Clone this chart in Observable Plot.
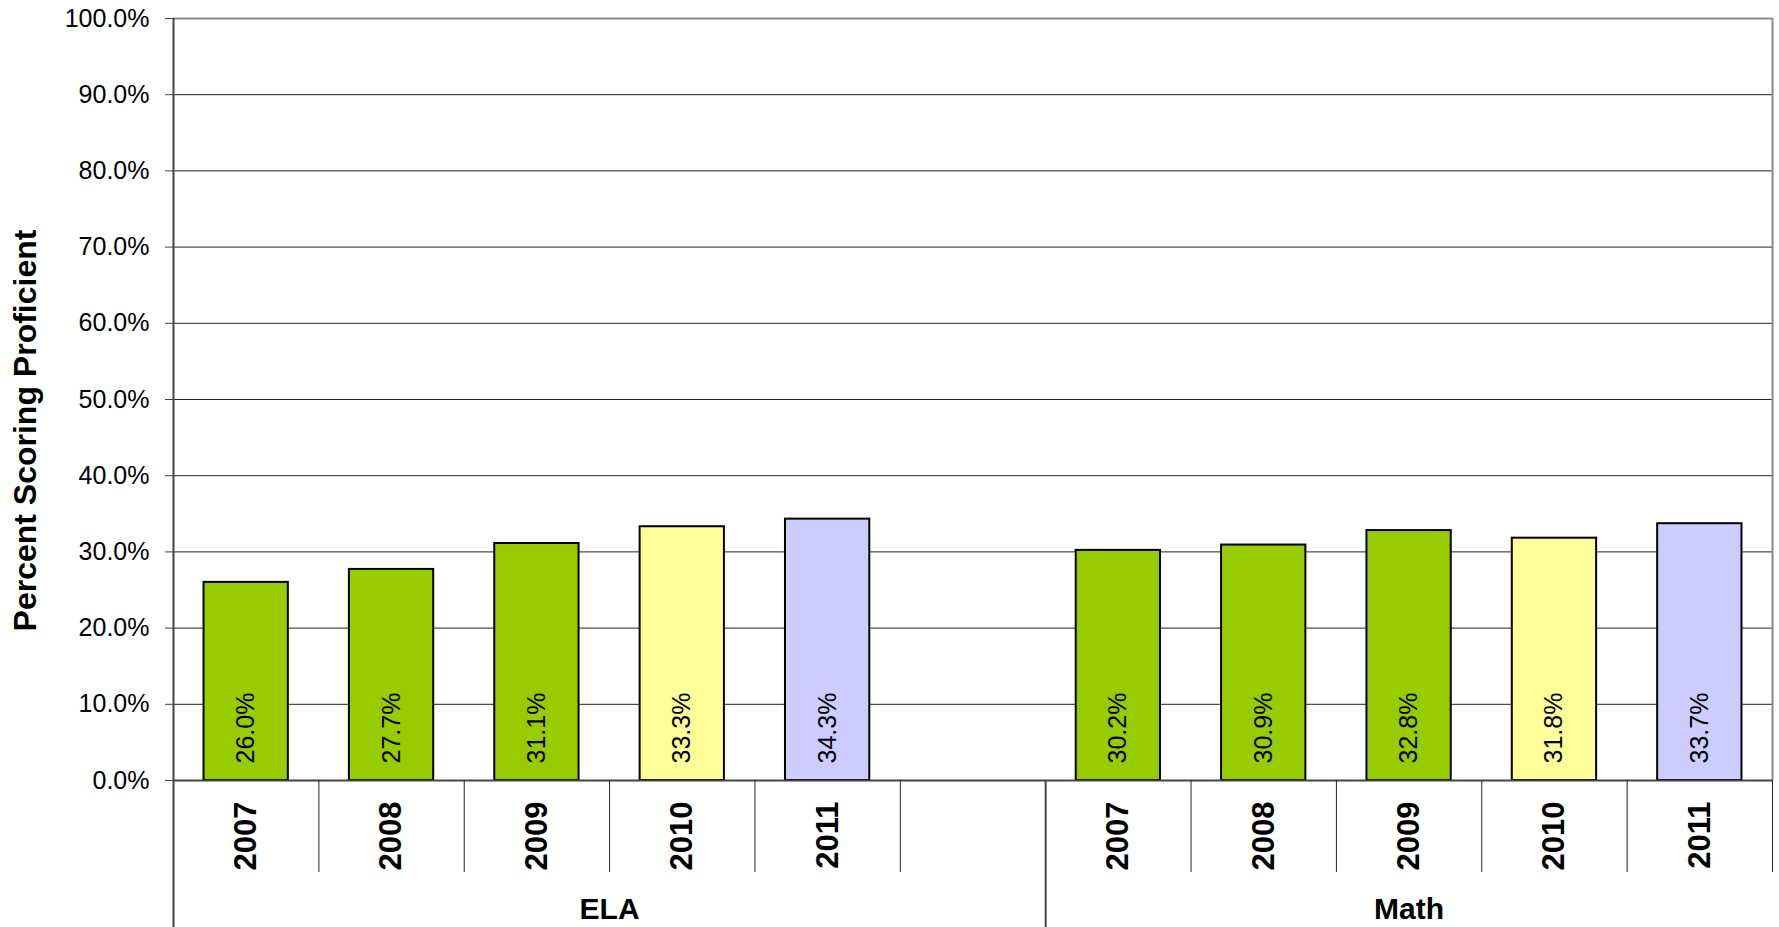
<!DOCTYPE html>
<html><head><meta charset="utf-8">
<script src="https://cdn.jsdelivr.net/npm/d3@7"></script>
<script src="https://cdn.jsdelivr.net/npm/@observablehq/plot@0.6"></script>
<style>body{margin:0;background:#fff;}</style>
</head><body><div id="chart"></div>
<script>
const subjects = ["ELA", "Math"];
const years = ["2007", "2008", "2009", "2010", "2011"];
const elaValues = [26.0, 27.7, 31.1, 33.3, 34.3];
const mathValues = [30.2, 30.9, 32.8, 31.8, 33.7];
const yearColors = ["#99CC00", "#99CC00", "#99CC00", "#FFFF99", "#CCCCFF"];
const yTicks = [0, 10, 20, 30, 40, 50, 60, 70, 80, 90, 100];
const yTitle = "Percent Scoring Proficient";

// ELA group holds the five years plus one empty slot; Math holds the five years
const groupSlots = [years.length + 1, years.length];
const groupStart = [0, groupSlots[0]];
const totalSlots = groupSlots[0] + groupSlots[1];

const rows = [];
[elaValues, mathValues].forEach((vals, g) =>
  vals.forEach((v, i) => rows.push({
    subject: subjects[g], year: years[i], value: v,
    slot: groupStart[g] + i, color: yearColors[i]
  }))
);

const catBounds = [];
groupSlots.forEach((n, g) => { for (let k = 1; k < n; k++) catBounds.push(groupStart[g] + k); });
catBounds.push(totalSlots);
const groupBounds = [0, groupStart[1]];

const chart = Plot.plot({
  width: 1779, height: 927,
  marginLeft: 173, marginRight: 7, marginTop: 18, marginBottom: 147,
  x: {domain: [0, totalSlots]},
  y: {domain: [0, 100]},
  color: {type: "identity"},
  style: {fontFamily: "'Liberation Sans', Arial, sans-serif", fontSize: "25px", color: "#000", background: "#fff"},
  marks: [
    Plot.gridY(yTicks.slice(1, -1), {stroke: "#222", strokeOpacity: 1, strokeWidth: 1}),
    Plot.ruleY([100], {stroke: "#888", strokeWidth: 2}),
    Plot.ruleX([totalSlots], {stroke: "#888", strokeWidth: 2}),
    Plot.rectY(rows, {
      x1: d => d.slot + 0.21, x2: d => d.slot + 0.79,
      y1: 0, y2: "value", fill: "color", stroke: "#000", strokeWidth: 2
    }),
    Plot.ruleY([0], {stroke: "#444", strokeWidth: 2}),
    Plot.ruleX([0], {stroke: "#444", strokeWidth: 2}),
    Plot.axisY({ticks: yTicks, tickFormat: d => d.toFixed(1) + "%", tickSize: 8, tickPadding: 16, fontSize: 25, stroke: "#444", label: null}),
    Plot.axisX({ticks: catBounds, tickSize: 92, tickFormat: () => "", stroke: "#222", label: null}),
    Plot.axisX({ticks: groupBounds, tickSize: 147, tickFormat: () => "", stroke: "#444", strokeWidth: 2, label: null}),
    Plot.text(rows, {
      x: d => d.slot + 0.5, y: 0, text: d => d.value.toFixed(1) + "%",
      rotate: -90, textAnchor: "start", lineAnchor: "middle", dy: -17, fontSize: 25, fill: "#000"
    }),
    Plot.text(rows, {
      x: d => d.slot + 0.5, frameAnchor: "bottom", text: "year",
      rotate: -90, textAnchor: "end", lineAnchor: "middle", dy: 21, fontSize: 31, fontWeight: "bold", fill: "#000"
    }),
    Plot.text(subjects, {
      x: (d, i) => groupStart[i] + groupSlots[i] / 2, frameAnchor: "bottom", text: d => d,
      dy: 129, fontSize: 30, fontWeight: "bold", lineAnchor: "middle", fill: "#000"
    }),
    Plot.text([yTitle], {
      frameAnchor: "left", text: d => d, rotate: -90, textAnchor: "middle", dx: -148, dy: 31,
      fontSize: 32, fontWeight: "bold", lineAnchor: "middle", fill: "#000"
    })
  ]
});
document.getElementById("chart").appendChild(chart);
</script>
</body></html>
